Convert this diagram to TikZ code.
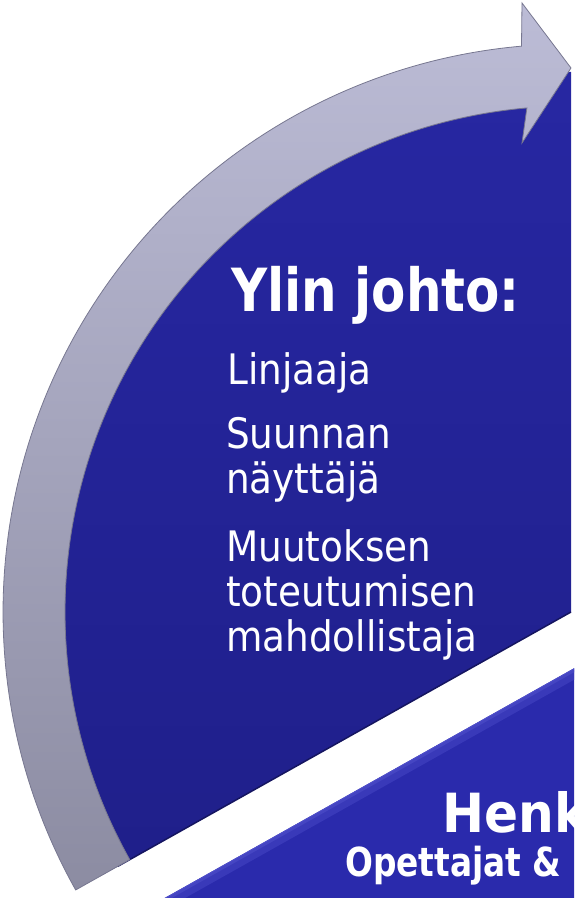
\documentclass[tikz,border=0pt]{standalone}
\usepackage{fontspec}
\usetikzlibrary{calc}
\newfontfamily\regfont{DejaVu Sans}[FakeStretch=0.89]
\newfontfamily\bldA{DejaVu Sans}[FakeStretch=0.84]
\newfontfamily\bldB{DejaVu Sans}[FakeStretch=0.93]
\newfontfamily\bldC{DejaVu Sans}[FakeStretch=0.82]
\definecolor{bluetop}{HTML}{2727A2}
\definecolor{bluebot}{HTML}{1F1F8A}
\definecolor{blueedge}{HTML}{151560}
\definecolor{lowblue}{HTML}{2A2AAC}
\definecolor{lowhi}{HTML}{5050CC}
\definecolor{bandtop}{HTML}{BCBCD6}
\definecolor{bandbot}{HTML}{8C8CA2}
\definecolor{bandedge}{HTML}{777790}
\tikzset{
  itemtext/.style={text=white, inner sep=0pt, anchor=base west, font=\regfont\fontsize{42}{50}\selectfont},
  titletext/.style={text=white, inner sep=0pt, anchor=base west, font=\bldA\bfseries\fontsize{59.5}{70}\selectfont},
  subtitle/.style={text=white, inner sep=0pt, anchor=base west, font=\bldC\bfseries\fontsize{40}{48}\selectfont},
  bigtitle/.style={text=white, inner sep=0pt, anchor=base west, font=\bldB\bfseries\fontsize{54}{64}\selectfont}
}
\begin{document}
\begin{tikzpicture}[x=1pt,y=1pt]
\useasboundingbox (0,0) rectangle (574,898);
\clip (0,0) rectangle (574,898);
\coordinate (C) at (571,286);
\coordinate (C2) at (571,228);
% upper sector
\shade[top color=bluetop, bottom color=bluebot]
  (C) -- ($(C)+(209.3:540)$) arc[start angle=209.3, end angle=90, radius=540] -- cycle;
\draw[blueedge, line width=1.5] (C) -- ($(C)+(209.3:520)$);
% lower sector
\fill[lowblue] ($(C2)+(29.3:80)$) coordinate (A) -- ($(C2)+(209.3:560)$) coordinate (B) -- (B -| A) -- cycle;
\draw[lowhi!40!lowblue, line width=9] ($(A)+(-60.7:5.5)$) -- ($(B)+(-60.7:5.5)$);
\draw[lowhi!70!lowblue, line width=3] ($(A)+(-60.7:2)$) -- ($(B)+(-60.7:2)$);
\draw[lowhi, line width=0.8] ($(A)+(-60.7:0.4)$) -- ($(B)+(-60.7:0.4)$);
% curved arrow band
\shade[top color=bandtop, bottom color=bandbot, draw=bandedge, line width=0.8]
  ($(C)+(209.3:568)$) arc[start angle=209.3, end angle=95, radius=568]
  -- (522,895) coordinate (H1) -- (571,830) coordinate (tip) -- (522,755) coordinate (H2)
  -- ($(C)+(95:506)$) arc[start angle=95, end angle=209.3, radius=506] -- cycle;
% texts
\node[titletext] (title) at (231,586) {Ylin johto:};
\node[itemtext] (i1) at (227,513) {Linjaaja};
\node[itemtext] (i2) at (226,449) {Suunnan};
\node[itemtext] (i3) at (226,404) {näyttäjä};
\node[itemtext] (i4) at (226,336) {Muutoksen};
\node[itemtext] (i5) at (226,291) {toteutumisen};
\node[itemtext] (i6) at (226,246) {mahdollistaja};
\node[bigtitle] (henk) at (442,65) {Henk};
\node[subtitle] (opet) at (345,21) {Opettajat \&};
\end{tikzpicture}
\end{document}
